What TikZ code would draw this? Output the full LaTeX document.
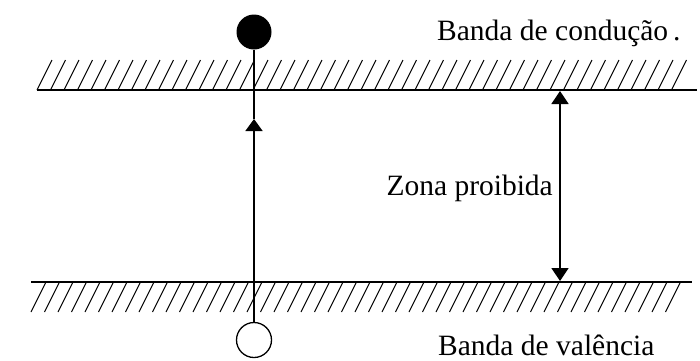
\documentclass[tikz,border=0pt]{standalone}
\usepackage{fontspec}
\setmainfont{Liberation Serif}
\usetikzlibrary{arrows.meta}
\begin{document}
\begin{tikzpicture}[x=1pt,y=-1pt,
  band/.style={line width=2.2pt},
  hatch/.style={line width=1pt},
  conn/.style={line width=1.6pt},
  tip/.style={-{Triangle[width=17pt,length=12pt]}},
  lbl/.style={font=\fontsize{29.5}{32}\selectfont, inner sep=0pt}]
\useasboundingbox (0,0) rectangle (700,360);
% bands
\coordinate (tl) at (37,90);
\coordinate (tr) at (697,90);
\coordinate (bl) at (31,282);
\coordinate (br) at (692,282);
\draw[band] (tl) -- (tr);
\draw[band] (bl) -- (br);
\foreach \x in {37,50.5,...,683} {
  \draw[hatch] (\x,90) -- (\x+15,60);
}
\foreach \x in {31,44.5,...,678} {
  \draw[hatch] (\x,312) -- (\x+15,282);
}
% electron and hole
\node[circle, fill=black, minimum size=35pt, inner sep=0pt] (e) at (254,32) {};
\node[circle, draw, line width=1.3pt, minimum size=35pt, inner sep=0pt] (h) at (254,340) {};
\coordinate (m) at (254,119);
\draw[conn, tip] (h) -- (m);
\draw[conn] (m) -- (e);
% gap arrow
\coordinate (gt) at (560,91);
\coordinate (gb) at (560,281);
\draw[conn, {Triangle[width=17pt,length=13pt]}-{Triangle[width=17pt,length=13pt]}] (gt) -- (gb);
% labels
\node[lbl, anchor=base west] (cb) at (437,40) {Banda de condução\,.};
\node[lbl, anchor=east] (zp) at (553,188) {Zona proibida};
\node[lbl, anchor=base west] (vb) at (438,355) {Banda de valência};
\end{tikzpicture}
\end{document}
